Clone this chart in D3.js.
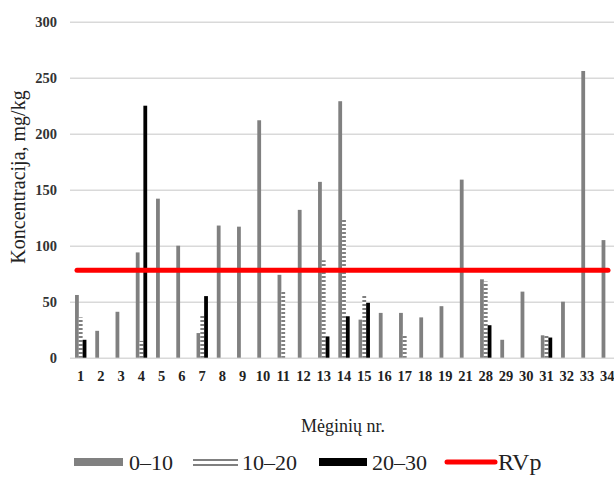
<!DOCTYPE html>
<html>
<head>
<meta charset="utf-8">
<script src="https://cdn.jsdelivr.net/npm/d3@7"></script>
<style>
  body { margin: 0; background: #fff; }
  svg { display: block; }
</style>
</head>
<body>
<svg id="chart" width="614" height="479"></svg>
<script>
// Sample numbers on the x axis
const samples = ["1","2","3","4","5","6","7","8","9","10","11","12","13","14","15","16","17","18","19","21","28","29","30","31","32","33","34"];
// Concentration (mg/kg) by sampling depth, cm; null = no sample at that depth
const depth0to10  = [56, 24, 41, 94, 142, 100, 22, 118, 117, 212, 74, 132, 157, 229, 34, 40, 40, 36, 46, 159, 70, 16, 59, 20, 50, 256, 105];
const depth10to20 = [36, null, null, 15, null, null, 38, null, null, null, 59, null, 87, 123, 56, null, 21, null, null, null, 68, null, null, 21, null, null, null];
const depth20to30 = [16, null, null, 225, null, null, 55, null, null, null, null, null, 19, 37, 49, null, null, null, null, null, 29, null, null, 18, null, null, null];
const seriesNames = ["0–10", "10–20", "20–30"];
// Limit value (RVp)
const rvpValue = 78;
const yTicks = [0, 50, 100, 150, 200, 250, 300];

const svg = d3.select("#chart");
const serif = "'Liberation Serif', 'Times New Roman', serif";

const x = d3.scaleBand().domain(samples).range([70.6, 617.4]).padding(0);
const bw = x.bandwidth();
const x1 = d3.scaleBand().domain(seriesNames).range([bw / 2 - 5.7, bw / 2 + 5.7]).padding(0);
const y = d3.scaleLinear().domain([0, 300]).range([357.7, 21.7]);

// Stripe pattern for the 10–20 cm bars
const defs = svg.append("defs");
const pat = defs.append("pattern")
  .attr("id", "stripes")
  .attr("patternUnits", "userSpaceOnUse")
  .attr("width", 4).attr("height", 4);
pat.append("rect").attr("width", 4).attr("height", 4).attr("fill", "#fff");
pat.append("rect").attr("width", 4).attr("height", 2).attr("fill", "#808080");

const fills = { "0–10": "#808080", "10–20": "url(#stripes)", "20–30": "#000" };

// Gridlines
const yAxis = d3.axisLeft(y).tickValues(yTicks).tickSize(-(614 - 70)).tickPadding(13).tickFormat(d3.format("d"));
const gAxis = svg.append("g").attr("transform", "translate(70,0)").call(yAxis);
gAxis.select(".domain").remove();
gAxis.selectAll(".tick line").attr("stroke", "#d9d9d9").attr("stroke-width", 1.6);
gAxis.selectAll(".tick text")
  .attr("font-family", serif).attr("font-weight", "bold").attr("font-size", 14.5)
  .attr("fill", "#333");

// Bars
const seriesData = [
  { name: "0–10", values: depth0to10 },
  { name: "10–20", values: depth10to20 },
  { name: "20–30", values: depth20to30 }
];
const gBars = svg.append("g");
seriesData.forEach(s => {
  gBars.append("g").selectAll("rect")
    .data(samples.map((c, i) => ({ c, v: s.values[i] })).filter(d => d.v != null))
    .join("rect")
    .attr("x", d => x(d.c) + x1(s.name))
    .attr("y", d => y(d.v))
    .attr("width", x1.bandwidth())
    .attr("height", d => y(0) - y(d.v))
    .attr("fill", fills[s.name]);
});

// X axis labels
const xAxis = d3.axisBottom(x).tickSize(0).tickPadding(13);
const gx = svg.append("g").attr("transform", `translate(0,${y(0)})`).call(xAxis);
gx.select(".domain").remove();
gx.selectAll(".tick text")
  .attr("font-family", serif).attr("font-weight", "bold").attr("font-size", 14.5)
  .attr("fill", "#222");

// RVp line
svg.append("line")
  .attr("x1", 77).attr("x2", 608)
  .attr("y1", y(rvpValue)).attr("y2", y(rvpValue))
  .attr("stroke", "#ff0000").attr("stroke-width", 5).attr("stroke-linecap", "round");

// Axis titles
svg.append("text")
  .attr("transform", `translate(25,177) rotate(-90)`)
  .attr("text-anchor", "middle")
  .attr("font-family", serif).attr("font-size", 20).attr("fill", "#222")
  .text("Koncentracija, mg/kg");
svg.append("text")
  .attr("x", 343).attr("y", 432)
  .attr("text-anchor", "middle")
  .attr("font-family", serif).attr("font-size", 18).attr("fill", "#222")
  .text("Mėginių nr.");

// Legend
const lg = svg.append("g").attr("font-family", serif).attr("font-size", 22).attr("fill", "#222");
const legendItems = [
  { name: "0–10", x: 74, w: 49, tx: 129 },
  { name: "10–20", x: 193, w: 45, tx: 242 },
  { name: "20–30", x: 319, w: 48, tx: 372 }
];
legendItems.forEach(it => {
  if (it.name === "10–20") {
    lg.append("rect").attr("x", it.x).attr("y", 459).attr("width", it.w).attr("height", 2).attr("fill", "#808080");
    lg.append("rect").attr("x", it.x).attr("y", 464).attr("width", it.w).attr("height", 2).attr("fill", "#808080");
  } else {
    lg.append("rect").attr("x", it.x).attr("y", 458).attr("width", it.w).attr("height", 8).attr("fill", fills[it.name]);
  }
  lg.append("text").attr("x", it.tx).attr("y", 470).text(it.name);
});
lg.append("line").attr("x1", 447).attr("x2", 495).attr("y1", 462).attr("y2", 462)
  .attr("stroke", "#ff0000").attr("stroke-width", 5).attr("stroke-linecap", "round");
lg.append("text").attr("x", 498).attr("y", 470).attr("font-size", 24).text("RVp");
</script>
</body>
</html>
